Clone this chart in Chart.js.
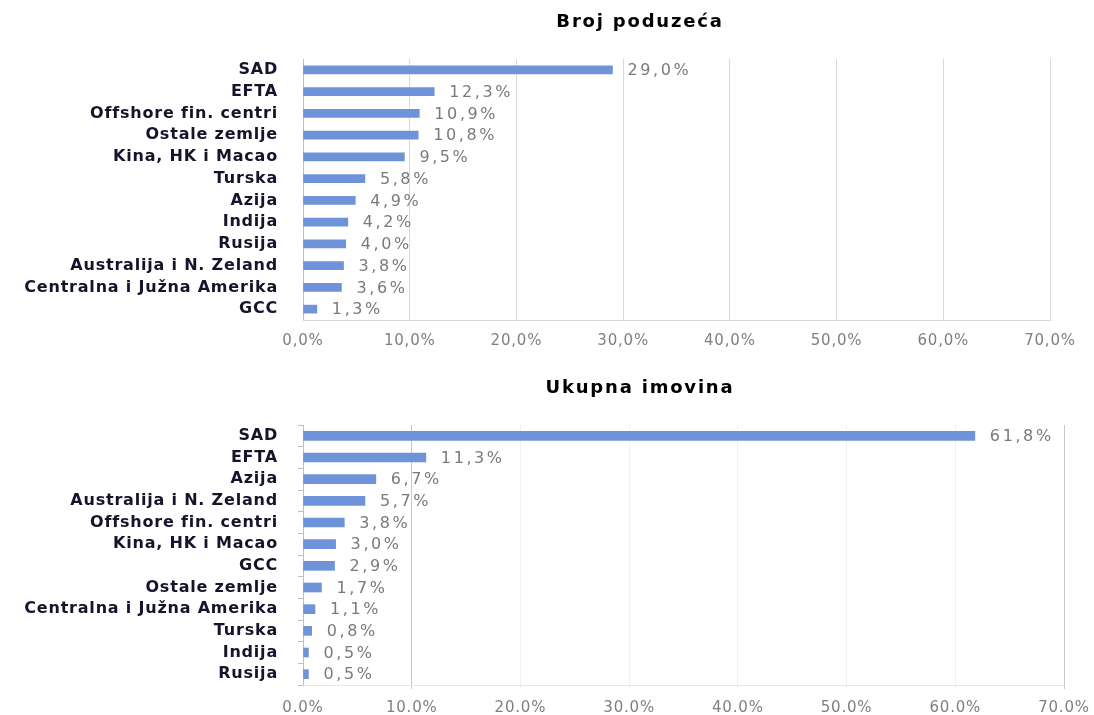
<!DOCTYPE html>
<html>
<head>
<meta charset="utf-8">
<script src="https://cdn.jsdelivr.net/npm/chart.js@4/dist/chart.umd.min.js"></script>
<style>
  html, body { margin: 0; padding: 0; background: #fff; overflow: hidden; }
  .box { position: absolute; left: 0; width: 1094px; }
</style>
</head>
<body>
<div class="box" style="top:0px;height:360px"><canvas id="topChart" width="1094" height="360"></canvas></div>
<div class="box" style="top:360px;height:358px"><canvas id="bottomChart" width="1094" height="358"></canvas></div>
<script>
// Broj poduzeća
const topCategories = ['SAD', 'EFTA', 'Offshore fin. centri', 'Ostale zemlje', 'Kina, HK i Macao', 'Turska',
  'Azija', 'Indija', 'Rusija', 'Australija i N. Zeland', 'Centralna i Južna Amerika', 'GCC'];
const topValues = [29.0, 12.3, 10.9, 10.8, 9.5, 5.8, 4.9, 4.2, 4.0, 3.8, 3.6, 1.3];

// Ukupna imovina
const bottomCategories = ['SAD', 'EFTA', 'Azija', 'Australija i N. Zeland', 'Offshore fin. centri', 'Kina, HK i Macao',
  'GCC', 'Ostale zemlje', 'Centralna i Južna Amerika', 'Turska', 'Indija', 'Rusija'];
const bottomValues = [61.8, 11.3, 6.7, 5.7, 3.8, 3.0, 2.9, 1.7, 1.1, 0.8, 0.5, 0.5];

const xMin = 0, xMax = 70, xStep = 10;

const barColor = '#6f93d8';
const catFont = { family: 'DejaVu Sans', size: 16, weight: 'bold' };
const numFont = { family: 'DejaVu Sans', size: 15 };

const pct = (v, sep) => v.toFixed(1).replace('.', sep) + '%';

// razmak slova za sve tekstove na platnu
const spacing = {
  id: 'spacing',
  beforeDraw(chart) { chart.ctx.letterSpacing = '0.8px'; }
};

// naslov, centriran kao u originalu
const chartTitle = {
  id: 'chartTitle',
  afterDraw(chart, args, opts) {
    const ctx = chart.ctx;
    ctx.save();
    ctx.font = 'bold 18px "DejaVu Sans"';
    ctx.letterSpacing = '1.8px';
    ctx.fillStyle = '#000';
    ctx.textAlign = 'center';
    ctx.textBaseline = 'middle';
    ctx.fillText(opts.text, opts.x, opts.y);
    ctx.restore();
  }
};

// vrijednosti pored stupaca
const valueLabels = {
  id: 'valueLabels',
  afterDatasetsDraw(chart) {
    const ctx = chart.ctx;
    const meta = chart.getDatasetMeta(0);
    ctx.save();
    ctx.font = '16px "DejaVu Sans"';
    ctx.fillStyle = '#7a7a7a';
    ctx.textAlign = 'left';
    ctx.textBaseline = 'middle';
    ctx.letterSpacing = '2.6px';
    meta.data.forEach((bar, i) => {
      const v = chart.data.datasets[0].data[i];
      ctx.fillText(pct(v, ','), bar.x + 15, bar.y + 1);
    });
    ctx.restore();
  }
};

function makeChart(id, title, labels, values, o) {
  return new Chart(document.getElementById(id), {
    type: 'bar',
    data: {
      labels: labels,
      datasets: [{
        data: values,
        backgroundColor: barColor,
        barThickness: o.barThickness
      }]
    },
    options: {
      indexAxis: 'y',
      responsive: false,
      animation: false,
      layout: { padding: { left: 0, right: o.padRight, top: o.padTop, bottom: o.padBottom } },
      plugins: {
        legend: { display: false },
        tooltip: { enabled: false },
        title: { display: false },
        chartTitle: { text: title, x: 640, y: o.titleY }
      },
      scales: {
        y: {
          afterFit(scale) {
            scale.width = 303;
            scale.paddingTop = 0;
            scale.paddingBottom = 0;
          },
          grid: {
            drawOnChartArea: false,
            drawTicks: o.yTicks,
            tickLength: 5,
            color: '#bfbfbf'
          },
          border: { color: '#bfbfbf' },
          ticks: {
            autoSkip: false,
            color: '#14142b',
            font: catFont,
            padding: o.yTicks ? 20 : 25
          }
        },
        x: {
          min: xMin,
          max: xMax,
          afterFit(scale) {
            scale.height = o.xHeight;
            scale.paddingTop = 0;
            scale.paddingBottom = 0;
            scale.paddingLeft = 0;
            scale.paddingRight = 0;
          },
          grid: {
            color: o.gridColor,
            drawTicks: o.xTicks,
            tickLength: 4
          },
          border: { color: o.borderColor },
          ticks: {
            stepSize: xStep,
            color: '#7f7f7f',
            font: numFont,
            padding: o.xPad,
            callback: v => pct(v, o.sep)
          }
        }
      }
    },
    plugins: [spacing, valueLabels, chartTitle]
  });
}

makeChart('topChart', 'Broj poduzeća', topCategories, topValues, {
  barThickness: 8, padRight: 44, padTop: 59, padBottom: 10, xHeight: 30, titleY: 22,
  yTicks: false, gridColor: '#d9d9d9', borderColor: '#d9d9d9', xTicks: false, xPad: 12, sep: ','
});

makeChart('bottomChart', 'Ukupna imovina', bottomCategories, bottomValues, {
  barThickness: 9, padRight: 30, padTop: 65, padBottom: 1, xHeight: 32, titleY: 28,
  yTicks: true,
  gridColor: ctx => (ctx.tick && (ctx.tick.value === 10 || ctx.tick.value === 70)) ? '#c8c8c8' : '#f0f0f0',
  borderColor: '#e6e6e6', xTicks: true, xPad: 10, sep: '.'
});
</script>
</body>
</html>
